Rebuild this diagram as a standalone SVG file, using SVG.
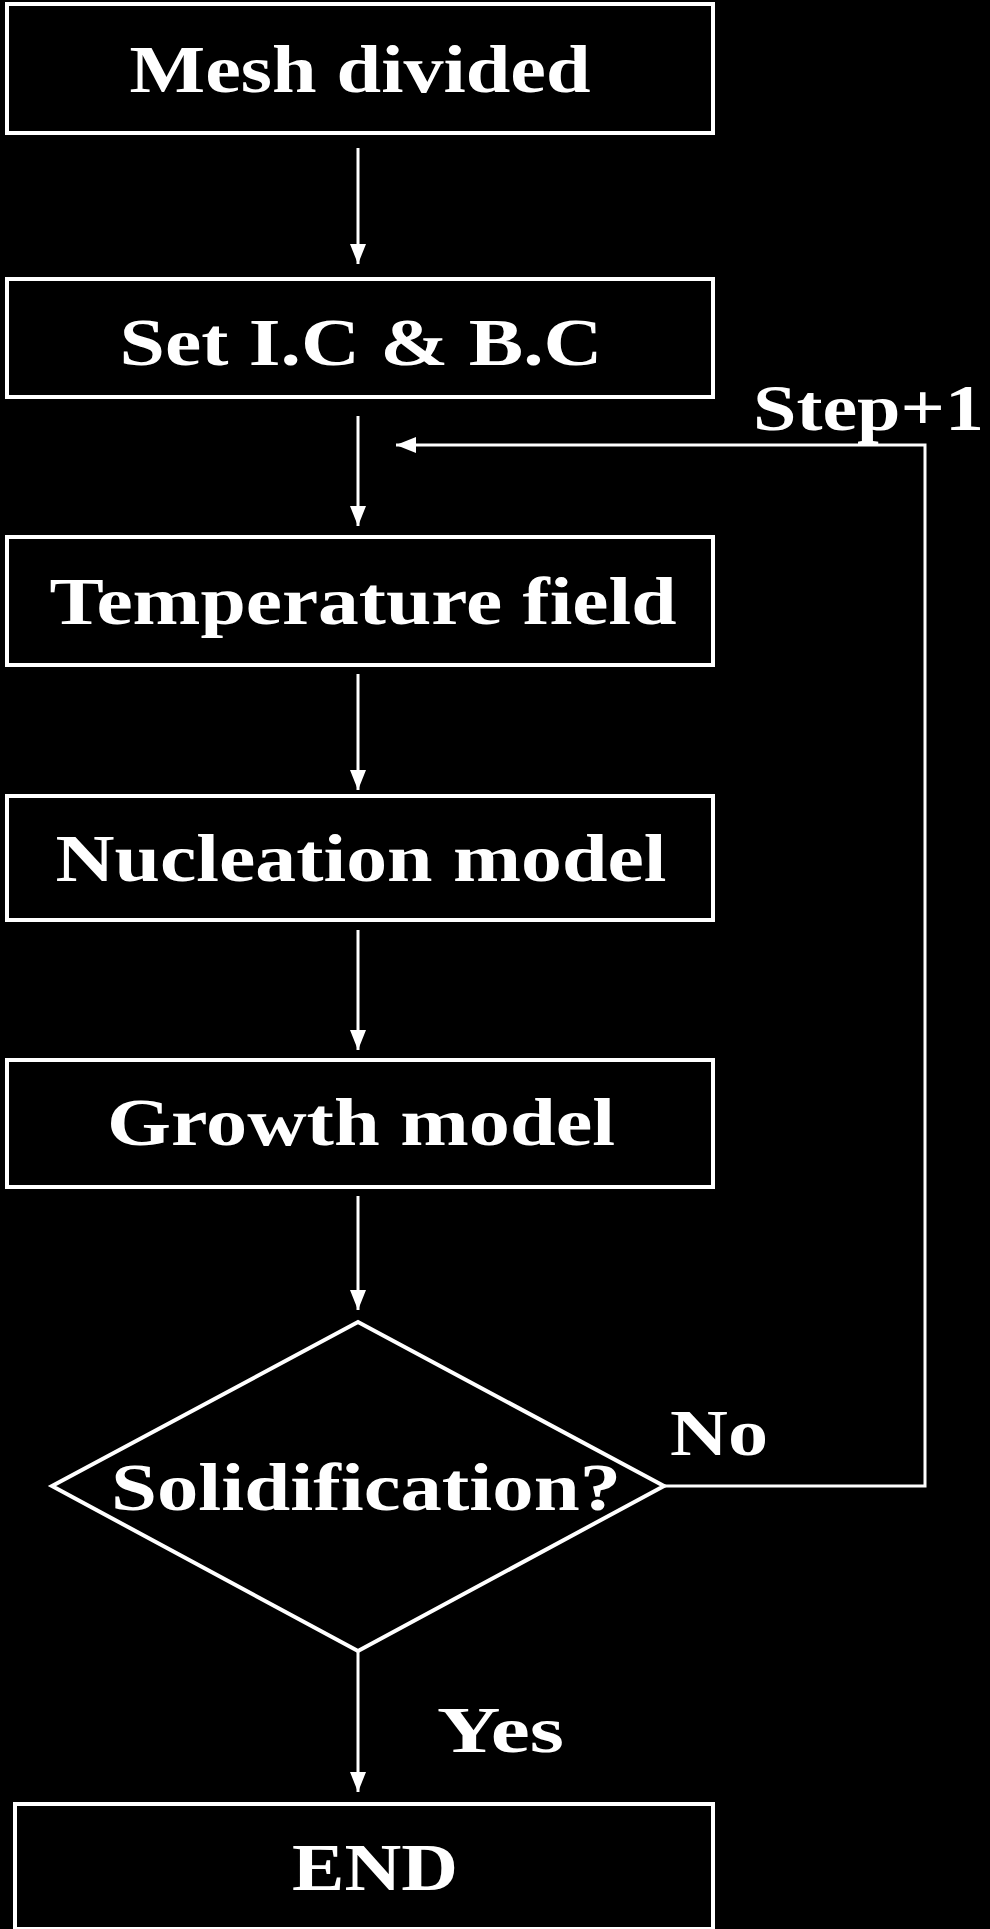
<svg xmlns="http://www.w3.org/2000/svg" width="990" height="1929" viewBox="0 0 990 1929">
<style>
.b{fill:#000;stroke:#fff;stroke-width:4}
.t{fill:#fff;font-family:"Liberation Serif",serif;font-weight:bold;font-size:68px;text-anchor:middle}
.l{fill:#fff;font-family:"Liberation Serif",serif;font-weight:bold;font-size:66px}
.c{stroke:#fff;stroke-width:3;fill:none;marker-end:url(#a2)}
</style>
<defs>
<marker id="a2" viewBox="0 0 10 10" refX="10" refY="5" markerWidth="20" markerHeight="16" markerUnits="userSpaceOnUse" orient="auto" preserveAspectRatio="none"><path d="M0,0L10,5L0,10z" fill="#fff"/></marker></defs>
<rect width="990" height="1929" fill="#000"/>
<g id="connectors">
<path class="c" d="M358,148V264"/>
<path class="c" d="M358,416V526"/>
<path class="c" d="M358,674V790"/>
<path class="c" d="M358,930V1050"/>
<path class="c" d="M358,1196V1310"/>
<path class="c" d="M358,1651V1792"/>
<path class="c" d="M664,1486H925V445H396"/>
</g>
<g id="n1"><rect class="b" x="7" y="4" width="706" height="129"/><text class="t" x="360" y="92" textLength="461" lengthAdjust="spacingAndGlyphs">Mesh divided</text></g>
<g id="n2"><rect class="b" x="7" y="279" width="706" height="118"/><text class="t" x="361" y="365" textLength="483" lengthAdjust="spacingAndGlyphs">Set I.C &amp; B.C</text></g>
<g id="n3"><rect class="b" x="7" y="537" width="706" height="128"/><text class="t" x="363" y="624" textLength="627" lengthAdjust="spacingAndGlyphs">Temperature field</text></g>
<g id="n4"><rect class="b" x="7" y="796" width="706" height="124"/><text class="t" x="361" y="881" textLength="611" lengthAdjust="spacingAndGlyphs">Nucleation model</text></g>
<g id="n5"><rect class="b" x="7" y="1060" width="706" height="127"/><text class="t" x="361" y="1145" textLength="508" lengthAdjust="spacingAndGlyphs">Growth model</text></g>
<g id="n6"><path class="b" d="M358,1322L664,1486L358,1651L52,1486z"/><text class="t" x="366" y="1510" textLength="510" lengthAdjust="spacingAndGlyphs">Solidification?</text></g>
<g id="n7"><rect class="b" x="15" y="1804" width="698" height="125"/><text class="t" x="375" y="1890" textLength="166" lengthAdjust="spacingAndGlyphs">END</text></g>
<text class="l" x="753" y="430" textLength="231" lengthAdjust="spacingAndGlyphs">Step+1</text>
<text class="l" x="670" y="1455" textLength="98" lengthAdjust="spacingAndGlyphs">No</text>
<text class="l" x="437" y="1752" textLength="127" lengthAdjust="spacingAndGlyphs">Yes</text>
</svg>
